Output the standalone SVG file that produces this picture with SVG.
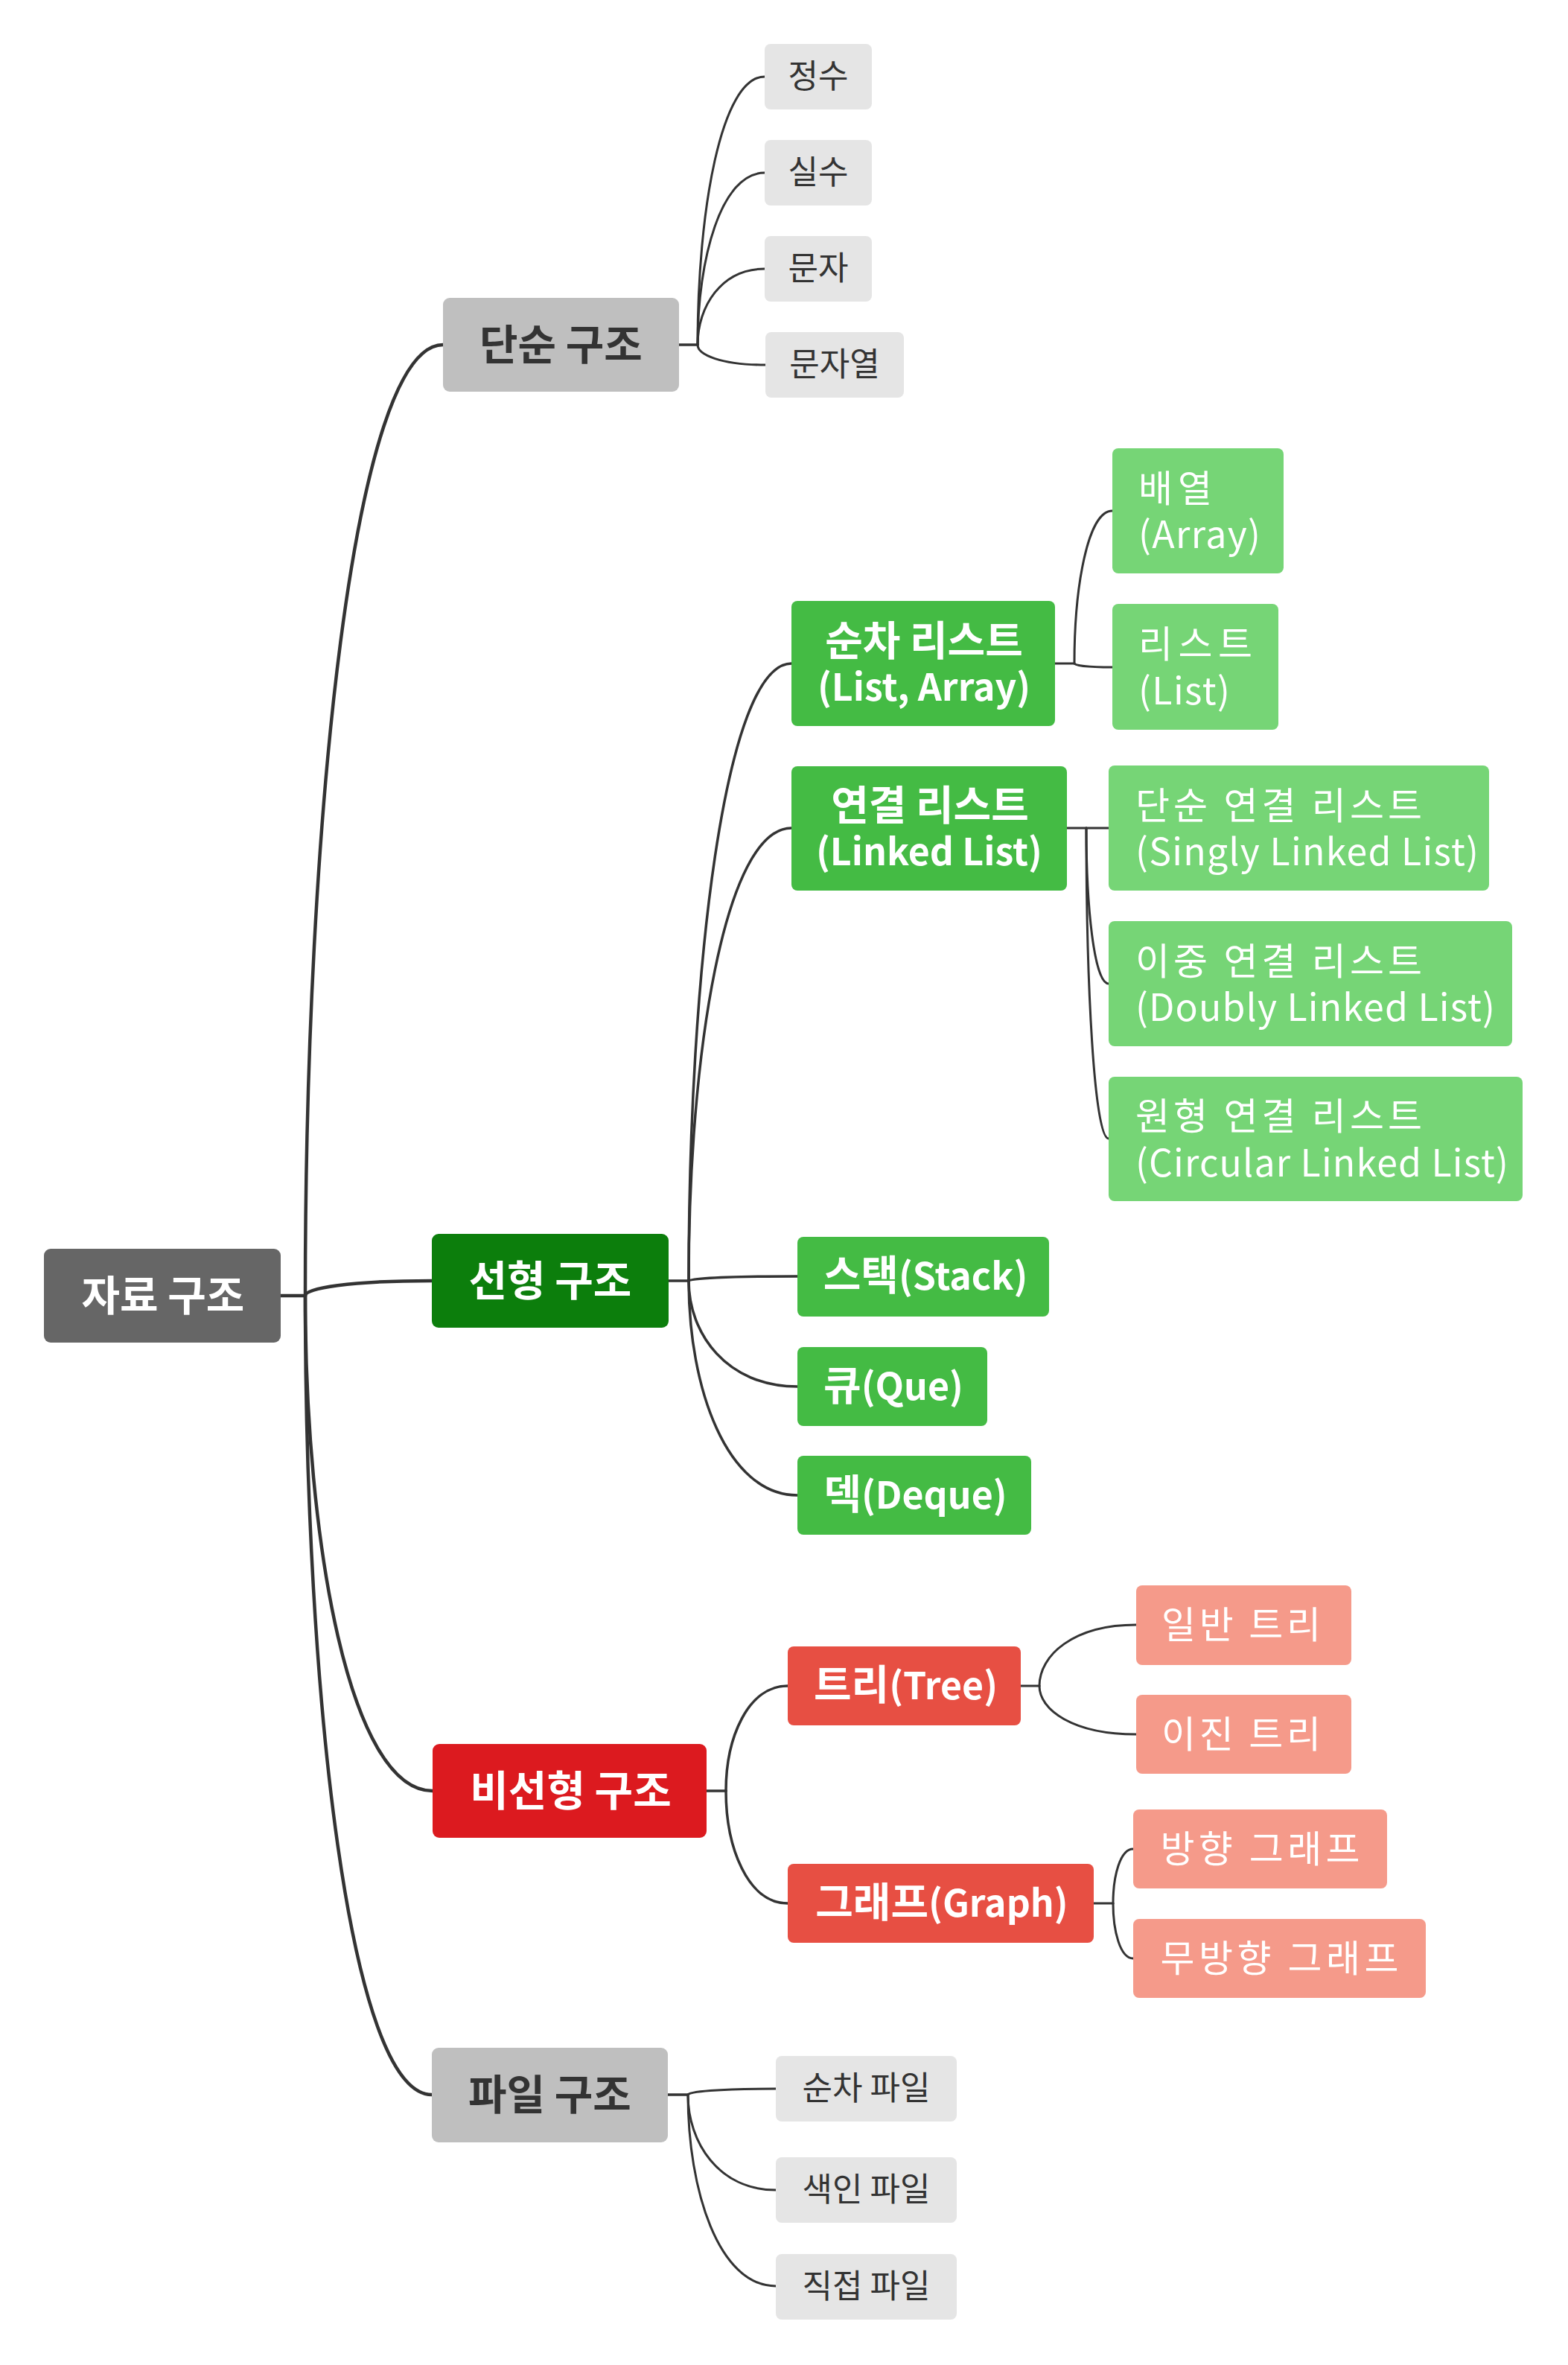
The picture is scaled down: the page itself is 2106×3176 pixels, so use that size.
<svg xmlns="http://www.w3.org/2000/svg" width="2106" height="3176" viewBox="0 0 2106 3176">
<style>
text { font-family: "Noto Sans CJK KR", "Noto Sans", sans-serif; }
.c { text-anchor: middle; }
.h1 { font-size: 56px; font-weight: 700; }
.h2 { font-size: 50px; font-weight: 700; fill: #ffffff; }
.k { font-size: 55px; }
.gl { font-size: 44px; fill: #333333; }
.ll { font-size: 50px; fill: #ffffff; }
.w { fill: #ffffff; }
.d { fill: #333333; }
.e { fill: none; stroke: #333333; stroke-linecap: round; }
.e1 { stroke-width: 4.5; }
.e2 { stroke-width: 3.5; }
.e3 { stroke-width: 3; }
.root { fill: #666666; }
.gray1 { fill: #bfbfbf; }
.gray2 { fill: #e5e5e5; }
.g1 { fill: #0c7e0c; }
.g2 { fill: #44bb44; }
.g3 { fill: #76d576; }
.r1 { fill: #dc1a1f; }
.r2 { fill: #e74f43; }
.r3 { fill: #f59a8a; }
</style>
<rect width="2106" height="3176" fill="#ffffff"/>
<g id="connectors">
  <path class="e e1" d="M377,1740 H410"/>
  <path class="e e1" d="M410,1740 C410,1101.5 474.75,463 595,463"/>
  <path class="e e1" d="M410,1740 C410,1730 469.5,1720 580,1720"/>
  <path class="e e1" d="M410,1740 C410,2072.5 469.85,2405 581,2405"/>
  <path class="e e1" d="M410,1740 C410,2276.5 469.5,2813 580,2813"/>

  <path class="e e2" d="M912,463 H937"/>
  <path class="e e3" d="M937,463 C937,283 968.5,103 1027,103"/>
  <path class="e e3" d="M937,463 C937,347.5 968.5,232 1027,232"/>
  <path class="e e3" d="M937,463 C937,412 968.5,361 1027,361"/>
  <path class="e e3" d="M937,463 C937,476.5 968.9,490 1028,490"/>

  <path class="e e2" d="M898,1720 H925"/>
  <path class="e e2" d="M925,1720 C925,1305.5 973.3,891 1063,891"/>
  <path class="e e2" d="M925,1720 C925,1416 973.3,1112 1063,1112"/>
  <path class="e e2" d="M925,1720 C925,1717 976.1,1714 1071,1714"/>
  <path class="e e2" d="M925,1720 C925,1791 976.1,1862 1071,1862"/>
  <path class="e e2" d="M925,1720 C925,1864 976.1,2008 1071,2008"/>

  <path class="e e3" d="M1417,891 H1443"/>
  <path class="e e3" d="M1443,891 C1443,788.5 1460.85,686 1494,686"/>
  <path class="e e3" d="M1443,891 C1443,893.5 1460.85,896 1494,896"/>

  <path class="e e3" d="M1433,1112 H1459"/>
  <path class="e e3" d="M1459,1112 H1489"/>
  <path class="e e3" d="M1459,1112 C1459,1216.5 1469.5,1321 1489,1321"/>
  <path class="e e3" d="M1459,1112 C1459,1320.5 1469.5,1529 1489,1529"/>

  <path class="e e2" d="M949,2405 H975"/>
  <path class="e e2" d="M975,2405 C975,2334.5 1004,2264 1058,2264"/>
  <path class="e e2" d="M975,2405 C975,2480.5 1004,2556 1058,2556"/>

  <path class="e e3" d="M1371,2264 H1396"/>
  <path class="e e3" d="M1396,2264 C1396,2223 1441.5,2182 1526,2182"/>
  <path class="e e3" d="M1396,2264 C1396,2296.5 1441.5,2329 1526,2329"/>

  <path class="e e3" d="M1469,2556 H1495"/>
  <path class="e e3" d="M1495,2556 C1495,2519.5 1504.45,2483 1522,2483"/>
  <path class="e e3" d="M1495,2556 C1495,2593 1504.45,2630 1522,2630"/>

  <path class="e e2" d="M897,2813 H924"/>
  <path class="e e3" d="M924,2813 C924,2809 965.3,2805 1042,2805"/>
  <path class="e e3" d="M924,2813 C924,2877 965.3,2941 1042,2941"/>
  <path class="e e3" d="M924,2813 C924,2941.5 965.3,3070 1042,3070"/>
</g>

<g id="n-root"><rect class="root" x="59" y="1677" width="318" height="126" rx="9"/><text class="h1 w c" x="219" y="1760">자료 구조</text></g>

<g id="n-simple"><rect class="gray1" x="595" y="400" width="317" height="126" rx="9"/><text class="h1 d c" x="753.5" y="483">단순 구조</text></g>
<g id="n-int"><rect class="gray2" x="1027" y="59" width="144" height="88" rx="8"/><text class="gl c" x="1099" y="118">정수</text></g>
<g id="n-real"><rect class="gray2" x="1027" y="188" width="144" height="88" rx="8"/><text class="gl c" x="1099" y="247">실수</text></g>
<g id="n-char"><rect class="gray2" x="1027" y="317" width="144" height="88" rx="8"/><text class="gl c" x="1099" y="376">문자</text></g>
<g id="n-string"><rect class="gray2" x="1028" y="446" width="186" height="88" rx="8"/><text class="gl c" x="1121" y="505">문자열</text></g>

<g id="n-linear"><rect class="g1" x="580" y="1657" width="318" height="126" rx="9"/><text class="h1 w c" x="739" y="1740">선형 구조</text></g>
<g id="n-seqlist"><rect class="g2" x="1063" y="807" width="354" height="168" rx="8"/><text class="h2 c" x="1241" y="879.5"><tspan class="k">순차 리스트</tspan></text><text class="h2 c" x="1241" y="940.5">(List, Array)</text></g>
<g id="n-array"><rect class="g3" x="1494" y="602" width="230" height="168" rx="8"/><text class="ll" x="1529" y="673.5" textLength="99" lengthAdjust="spacing">배열</text><text class="ll" x="1529" y="736" textLength="164" lengthAdjust="spacing">(Array)</text></g>
<g id="n-list"><rect class="g3" x="1494" y="811" width="223" height="169" rx="8"/><text class="ll" x="1529" y="883" textLength="153" lengthAdjust="spacing">리스트</text><text class="ll" x="1529" y="945.5" textLength="123" lengthAdjust="spacing">(List)</text></g>
<g id="n-linked"><rect class="g2" x="1063" y="1029" width="370" height="167" rx="8"/><text class="h2 c" x="1249" y="1101"><tspan class="k">연결 리스트</tspan></text><text class="h2 c" x="1248" y="1162">(Linked List)</text></g>
<g id="n-singly"><rect class="g3" x="1489" y="1028" width="511" height="168" rx="8"/><text class="ll" x="1525" y="1099.5" textLength="385" lengthAdjust="spacing">단순 연결 리스트</text><text class="ll" x="1525" y="1162" textLength="461" lengthAdjust="spacing">(Singly Linked List)</text></g>
<g id="n-doubly"><rect class="g3" x="1489" y="1237" width="542" height="168" rx="8"/><text class="ll" x="1525" y="1308.5" textLength="385" lengthAdjust="spacing">이중 연결 리스트</text><text class="ll" x="1525" y="1371" textLength="483" lengthAdjust="spacing">(Doubly Linked List)</text></g>
<g id="n-circular"><rect class="g3" x="1489" y="1446" width="556" height="167" rx="8"/><text class="ll" x="1525" y="1517" textLength="385" lengthAdjust="spacing">원형 연결 리스트</text><text class="ll" x="1525" y="1579.5" textLength="501" lengthAdjust="spacing">(Circular Linked List)</text></g>
<g id="n-stack"><rect class="g2" x="1071" y="1661" width="338" height="107" rx="8"/><text class="h2 c" x="1243" y="1732"><tspan class="k">스택</tspan>(Stack)</text></g>
<g id="n-queue"><rect class="g2" x="1071" y="1809" width="255" height="106" rx="8"/><text class="h2 c" x="1200" y="1880"><tspan class="k">큐</tspan>(Que)</text></g>
<g id="n-deque"><rect class="g2" x="1071" y="1955" width="314" height="106" rx="8"/><text class="h2 c" x="1229.5" y="2026"><tspan class="k">덱</tspan>(Deque)</text></g>

<g id="n-nonlinear"><rect class="r1" x="581" y="2342" width="368" height="126" rx="9"/><text class="h1 w c" x="766.5" y="2425">비선형 구조</text></g>
<g id="n-tree"><rect class="r2" x="1058" y="2211" width="313" height="106" rx="8"/><text class="h2 c" x="1216.5" y="2282"><tspan class="k">트리</tspan>(Tree)</text></g>
<g id="n-gtree"><rect class="r3" x="1526" y="2129" width="289" height="107" rx="8"/><text class="ll c" x="1667" y="2200" textLength="214" lengthAdjust="spacing">일반 트리</text></g>
<g id="n-btree"><rect class="r3" x="1526" y="2276" width="289" height="106" rx="8"/><text class="ll c" x="1667" y="2346.5" textLength="214" lengthAdjust="spacing">이진 트리</text></g>
<g id="n-graph"><rect class="r2" x="1058" y="2503" width="411" height="106" rx="8"/><text class="h2 c" x="1265" y="2574"><tspan class="k">그래프</tspan>(Graph)</text></g>
<g id="n-dgraph"><rect class="r3" x="1522" y="2430" width="341" height="106" rx="8"/><text class="ll c" x="1692.5" y="2500.5" textLength="268" lengthAdjust="spacing">방향 그래프</text></g>
<g id="n-ugraph"><rect class="r3" x="1522" y="2577" width="393" height="106" rx="8"/><text class="ll c" x="1718.5" y="2647.5" textLength="320" lengthAdjust="spacing">무방향 그래프</text></g>

<g id="n-file"><rect class="gray1" x="580" y="2750" width="317" height="127" rx="9"/><text class="h1 d c" x="738.5" y="2833">파일 구조</text></g>
<g id="n-seqfile"><rect class="gray2" x="1042" y="2761" width="243" height="88" rx="8"/><text class="gl c" x="1163.5" y="2820">순차 파일</text></g>
<g id="n-idxfile"><rect class="gray2" x="1042" y="2897" width="243" height="88" rx="8"/><text class="gl c" x="1163.5" y="2956">색인 파일</text></g>
<g id="n-dirfile"><rect class="gray2" x="1042" y="3027" width="243" height="88" rx="8"/><text class="gl c" x="1163.5" y="3086">직접 파일</text></g>
</svg>
